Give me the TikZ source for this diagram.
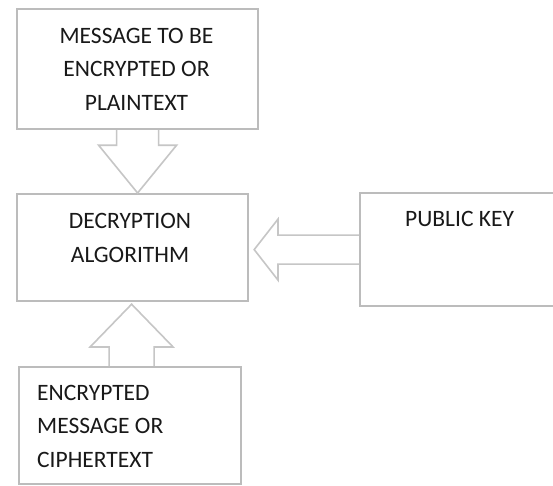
\documentclass[tikz,border=0pt]{standalone}
\usepackage{fontspec}
\setmainfont{Carlito}
\usetikzlibrary{calc}
\definecolor{linegray}{RGB}{188,188,188}
\definecolor{arrgray}{RGB}{198,198,198}
\definecolor{txtcol}{RGB}{25,25,25}
\tikzset{
  box/.style={draw=linegray, line width=2.2pt, rectangle, inner sep=0pt, anchor=north west},
  lbl/.style={font=\fontsize{23.5}{33.5}\selectfont, text=txtcol, inner sep=0pt},
  blockarrow/.style={draw=arrgray, line width=1.6pt, line join=miter}
}
\begin{document}
\begin{tikzpicture}[x=1pt,y=-1pt]
\clip (0,0) rectangle (553,485);
\fill[white] (0,0) rectangle (553,485);
% boxes
\node[box, minimum width=241pt, minimum height=120pt] (plain) at (16,8) {};
\node[box, minimum width=231pt, minimum height=107pt] (dec) at (16,193) {};
\node[box, minimum width=222pt, minimum height=117pt] (cipher) at (18,366) {};
\node[box, minimum width=261pt, minimum height=113pt] (pub) at (359,192) {};
% labels (base anchor = baseline of the last line)
\node[lbl, align=center, anchor=base] (t1) at (136.5,110) {MESSAGE TO BE\\ENCRYPTED OR\\PLAINTEXT};
\node[lbl, align=center, anchor=base] (t2) at (130,262) {DECRYPTION\\ALGORITHM};
\node[lbl, align=left, anchor=base west] (t3) at (37,467) {ENCRYPTED\\MESSAGE OR\\CIPHERTEXT};
\node[lbl, anchor=base west] (t4) at (405,226) {PUBLIC KEY};
% block arrows
\draw[blockarrow] ($(plain.south)+(-21,0)$) -- ++(0,15) -- ++(-18,0)
  -- (plain.south |- dec.north) -- ($(plain.south)+(39,15)$) -- ++(-18,0)
  -- ($(plain.south)+(21,0)$);
\coordinate (b0) at ($(cipher.north)+(1.5,0)$);
\draw[blockarrow] ($(b0)+(-22.5,0)$) -- ++(0,-19) -- ++(-19,0)
  -- ($(b0 |- dec.south)+(0,2)$) -- ($(b0)+(41.5,-19)$) -- ++(-19,0)
  -- ($(b0)+(22.5,0)$);
\draw[blockarrow] ($(pub.west)+(0,-14.5)$) -- ++(-81,0) -- ++(0,-16)
  -- ($(dec.east |- pub.west)+(5,0)$) -- ($(pub.west)+(-81,30.5)$) -- ++(0,-16)
  -- ($(pub.west)+(0,14.5)$);
\end{tikzpicture}
\end{document}
